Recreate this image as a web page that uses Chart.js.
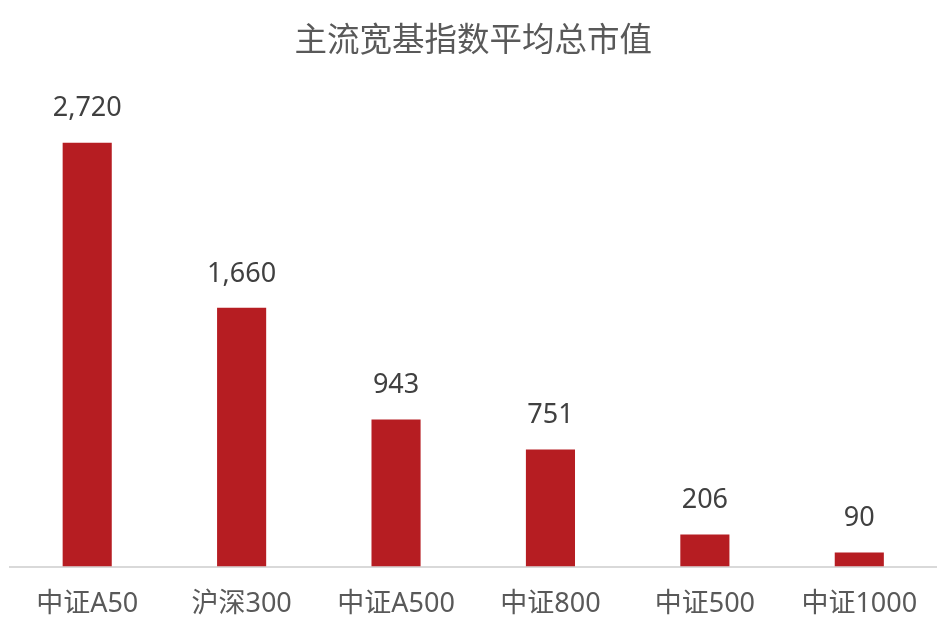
<!DOCTYPE html>
<html>
<head>
<meta charset="utf-8">
<script src="https://cdn.jsdelivr.net/npm/chart.js@4"></script>
<style>
  html, body { margin: 0; padding: 0; background: #fff; }
  #wrap { width: 947px; height: 639px; }
</style>
</head>
<body>
<div id="wrap"><canvas id="capChart"></canvas></div>
<script>
// 主流宽基指数平均总市值
const categories = ['中证A50', '沪深300', '中证A500', '中证800', '中证500', '中证1000'];
const avgMarketCap = [2720, 1660, 943, 751, 206, 90];

const FONT = '"Noto Sans", "Noto Sans CJK SC", sans-serif';

// value labels above each bar
const barLabels = {
    id: 'barLabels',
    afterDatasetsDraw(chart) {
        const ctx = chart.ctx;
        const meta = chart.getDatasetMeta(0);
        ctx.save();
        ctx.font = '27px ' + FONT;
        ctx.fillStyle = '#404040';
        ctx.textAlign = 'center';
        ctx.textBaseline = 'middle';
        meta.data.forEach((bar, i) => {
            ctx.fillText(avgMarketCap[i].toLocaleString('en-US'), bar.x, bar.y - 34);
        });
        ctx.restore();
    }
};

const capCtx = document.getElementById('capChart').getContext('2d');
const capChart = new Chart(capCtx, {
    type: 'bar',
    data: {
        labels: categories,
        datasets: [{
            label: '平均总市值',
            data: avgMarketCap,
            backgroundColor: '#B61D22',
            barPercentage: 0.318,
            categoryPercentage: 1
        }]
    },
    options: {
        responsive: true,
        maintainAspectRatio: false,
        animation: false,
        layout: {
            padding: { left: 10, right: 10.5, top: 0, bottom: -4 }
        },
        scales: {
            x: {
                grid: { display: false, drawTicks: false },
                border: { display: true, color: '#d9d9d9', width: 2 },
                ticks: {
                    color: '#595959',
                    padding: 22,
                    font: { family: FONT, size: 27 }
                }
            },
            y: {
                display: false,
                min: 0,
                max: 3000
            }
        },
        plugins: {
            legend: { display: false },
            tooltip: { enabled: false },
            title: {
                display: true,
                text: '主流宽基指数平均总市值',
                color: '#595959',
                font: { family: FONT, size: 32.5, weight: 'normal' },
                padding: { top: 22, bottom: 38 }
            }
        }
    },
    plugins: [barLabels]
});
</script>
</body>
</html>
